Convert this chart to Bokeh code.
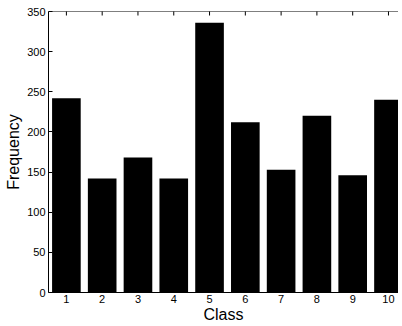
from bokeh.plotting import figure
from bokeh.models import LinearAxis, FixedTicker, Range1d, Span
from bokeh.embed import file_html
from bokeh.resources import INLINE

classes = [1, 2, 3, 4, 5, 6, 7, 8, 9, 10]
frequency = [242, 142, 168, 142, 336, 212, 153, 220, 146, 240]
x_ticks = [1, 2, 3, 4, 5, 6, 7, 8, 9, 10]
y_ticks = [0, 50, 100, 150, 200, 250, 300, 350]
y_top = 350

FONT = "Liberation Sans"

p = figure(width=398, height=325, output_backend="svg", toolbar_location=None,
           x_range=Range1d(0.5, 10.28), y_range=Range1d(0, y_top),
           x_axis_location=None, y_axis_location=None,
           min_border_left=48, min_border_top=11, min_border_right=0, min_border_bottom=20)
p.outline_line_color = None
p.grid.visible = False
p.background_fill_color = "white"

p.vbar(x=classes, top=frequency, width=0.8, fill_color="black", line_color=None)

# top frame line with inward ticks
p.add_layout(Span(location=y_top, dimension="width", line_color="black", line_width=1))
p.scatter(x=x_ticks, y=[y_top] * len(x_ticks), marker="dash", size=8, angle=1.5708,
          line_color="black", line_width=1)

def style(ax):
    ax.axis_line_color = "black"
    ax.axis_line_width = 1
    ax.major_tick_in = 4
    ax.major_tick_out = 0
    ax.minor_tick_line_color = None
    ax.major_label_text_font = FONT
    ax.major_label_text_font_size = "11px"
    ax.major_label_text_color = "black"
    ax.axis_label_text_font = FONT
    ax.axis_label_text_font_size = "16px"
    ax.axis_label_text_font_style = "normal"
    ax.axis_label_text_color = "black"

xb = LinearAxis(ticker=FixedTicker(ticks=x_ticks), axis_label="Class")
style(xb)
xb.major_label_standoff = 2
xb.axis_label_standoff = 0
p.add_layout(xb, "below")

yl = LinearAxis(ticker=FixedTicker(ticks=y_ticks), axis_label="Frequency")
style(yl)
yl.major_label_standoff = 3
yl.axis_label_standoff = 2
p.add_layout(yl, "left")

open("out.html", "w").write(file_html(p, INLINE))
